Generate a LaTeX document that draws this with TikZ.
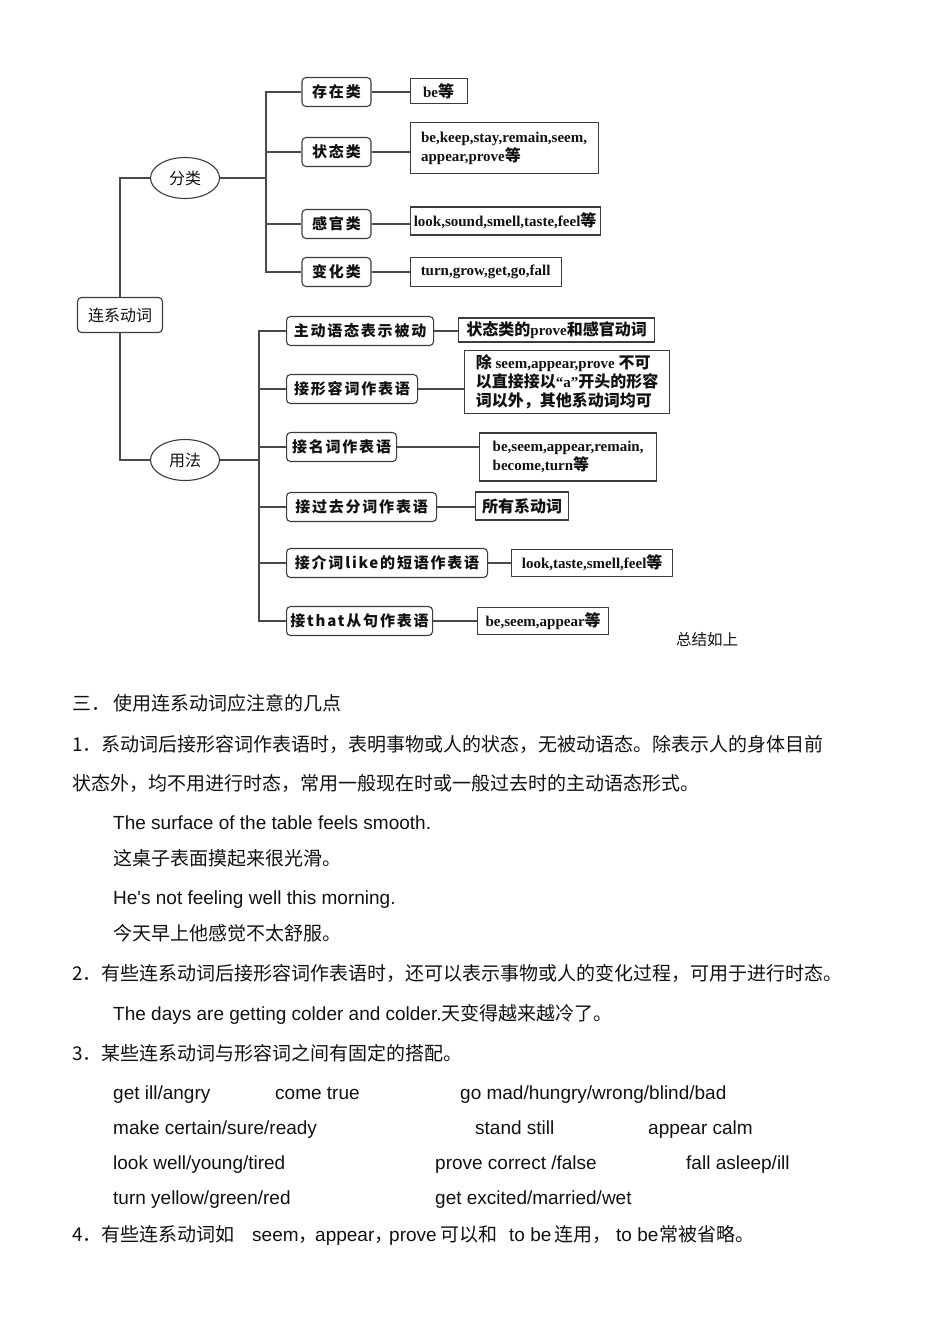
\documentclass[tikz,border=0pt]{standalone}
\usepackage{fontspec}
\setmainfont{Liberation Sans}
\newfontfamily\cjk{Noto Sans CJK SC}
\newfontfamily\cjkspaced[LetterSpace=12]{Noto Sans CJK SC}
\newfontfamily\leafserif{Liberation Serif}
\usetikzlibrary{positioning, shapes.geometric}
\definecolor{clrborder}{HTML}{3C3C3C}
\definecolor{clrline}{HTML}{4A4A4A}
\definecolor{clrtext}{HTML}{111111}
\newcommand{\zhtext}[1]{{\cjk #1}}
\newcommand{\leafzh}[1]{{\fontsize{16}{19}\selectfont\cjk\bfseries #1}}

\begin{document}
\begin{tikzpicture}[
    x=1pt, y=-1pt,
    every node/.style={text=clrtext},
    rootbox/.style={draw=clrborder, rounded corners=4pt, line width=1.1pt, minimum width=85,
                    minimum height=35, inner sep=0, font=\fontsize{16}{16}\selectfont\cjk},
    topic/.style={draw=clrborder, ellipse, line width=1.1pt, minimum width=69, minimum height=41,
                  inner sep=0, font=\fontsize{16}{16}\selectfont\cjk},
    kindbox/.style={draw=clrborder, rounded corners=4pt, line width=1.1pt, minimum height=29,
                    inner sep=0, font=\fontsize{15}{15}\selectfont\cjkspaced\bfseries},
    leafbox/.style={draw=clrborder, line width=1.1pt, inner sep=0, align=left,
                    font=\fontsize{15}{19}\selectfont\leafserif\bfseries},
    link/.style={draw=clrline, line width=1.1pt},
    para/.style={anchor=base west, inner sep=0, font=\fontsize{19}{19}\selectfont},
    parazh/.style={para, font=\fontsize{19}{19}\selectfont\cjk},
]
\useasboundingbox (0,0) rectangle (950,1319);
\node[rootbox] (root) at (120,315) {连系动词};
\node[topic] (kind) at (185,178) {分类};
\node[topic] (usage) at (185,460) {用法};
\coordinate (kind_bus) at (266,178);
\coordinate (usage_bus) at (259,460);
\node[kindbox, minimum width=69] (kind_1) at (336.5,92) {存在类};
\node[kindbox, minimum width=69] (kind_2) at (336.5,152) {状态类};
\node[kindbox, minimum width=69] (kind_3) at (336.5,224) {感官类};
\node[kindbox, minimum width=69] (kind_4) at (336.5,272) {变化类};
\node[leafbox, minimum width=57, minimum height=25, right=38pt of kind_1, yshift=1pt] (kind_leaf_1) {be\leafzh{等}};
\node[leafbox, minimum width=188, minimum height=51, right=38pt of kind_2, yshift=4pt] (kind_leaf_2) {be,keep,stay,remain,seem,\\appear,prove\leafzh{等}};
\node[leafbox, minimum width=190, minimum height=28, right=38pt of kind_3, yshift=3pt] (kind_leaf_3) {look,sound,smell,taste,feel\leafzh{等}};
\node[leafbox, minimum width=151, minimum height=29, right=38pt of kind_4] (kind_leaf_4) {turn,grow,get,go,fall};
\node[kindbox, anchor=west, minimum width=147] (use_1) at (286,331) {主动语态表示被动};
\node[kindbox, anchor=west, minimum width=131] (use_2) at (286,389) {接形容词作表语};
\node[kindbox, anchor=west, minimum width=110] (use_3) at (286,447) {接名词作表语};
\node[kindbox, anchor=west, minimum width=150] (use_4) at (286,507) {接过去分词作表语};
\node[kindbox, anchor=west, minimum width=201] (use_5) at (286,563) {接介词like的短语作表语};
\node[kindbox, anchor=west, minimum width=146] (use_6) at (286,621) {接that从句作表语};
\node[leafbox, minimum width=196, minimum height=24, right=24pt of use_1, yshift=1pt] (use_leaf_1) {\leafzh{状态类的}prove\leafzh{和感官动词}};
\node[leafbox, minimum width=205, minimum height=63, right=46pt of use_2, yshift=7pt] (use_leaf_2) {\leafzh{除} seem,appear,prove \leafzh{不可}\\\leafzh{以直接接以}“a”\leafzh{开头的形容}\\\leafzh{词以外，其他系动词均可}};
\node[leafbox, minimum width=177, minimum height=48, right=82pt of use_3, yshift=-10pt] (use_leaf_3) {be,seem,appear,remain,\\become,turn\leafzh{等}};
\node[leafbox, minimum width=93, minimum height=28, right=38pt of use_4, yshift=1pt] (use_leaf_4) {\leafzh{所有系动词}};
\node[leafbox, minimum width=161, minimum height=27, right=23pt of use_5] (use_leaf_5) {look,taste,smell,feel\leafzh{等}};
\node[leafbox, minimum width=131, minimum height=27, right=44pt of use_6] (use_leaf_6) {be,seem,appear\leafzh{等}};
\draw[link] (kind.west) -| (root.north);
\draw[link] (root.south) |- (usage.west);
\draw[link] (kind.east) -- (kind_bus);
\draw[link] (usage.east) -- (usage_bus);
\foreach \i in {1,...,4} {
    \draw[link] (kind_bus) |- (kind_\i.west);
    \draw[link] (kind_\i.east) -- (kind_\i.east -| kind_leaf_\i.west);
}
\foreach \i in {1,...,6} {
    \draw[link] (usage_bus) |- (use_\i.west);
    \draw[link] (use_\i.east) -- (use_\i.east -| use_leaf_\i.west);
}
\node[inner sep=0, font=\fontsize{15.5}{15.5}\selectfont\cjk] (summary) at (707,640) {总结如上};
\node[parazh] (sec_title) at (72,710) {三．\hspace{3pt}使用连系动词应注意的几点};
\node[parazh] (rule_1a) at (72,751) {1．系动词后接形容词作表语时，表明事物或人的状态，无被动语态。除表示人的身体目前};
\node[parazh] (rule_1b) at (72,790) {状态外，均不用进行时态，常用一般现在时或一般过去时的主动语态形式。};
\node[para] (ex_1) at (113,829) {The surface of the table feels smooth.};
\node[parazh] (ex_1_zh) at (113,865) {这桌子表面摸起来很光滑。};
\node[para] (ex_2) at (113,904) {He\textquotesingle s not feeling well this morning.};
\node[parazh] (ex_2_zh) at (113,940) {今天早上他感觉不太舒服。};
\node[parazh] (rule_2) at (72,980) {2．有些连系动词后接形容词作表语时，还可以表示事物或人的变化过程，可用于进行时态。};
\node[para] (ex_3) at (113,1020) {The days are getting colder and colder.\zhtext{天变得越来越冷了。}};
\node[parazh] (rule_3) at (72,1060) {3．某些连系动词与形容词之间有固定的搭配。};
\node[para] (pair_1) at (113,1099) {get ill/angry};
\node[para] (pair_2) at (275,1099) {come true};
\node[para] (pair_3) at (460,1099) {go mad/hungry/wrong/blind/bad};
\node[para] (pair_4) at (113,1134) {make certain/sure/ready};
\node[para] (pair_5) at (475,1134) {stand still};
\node[para] (pair_6) at (648,1134) {appear calm};
\node[para] (pair_7) at (113,1169) {look well/young/tired};
\node[para] (pair_8) at (435,1169) {prove correct /false};
\node[para] (pair_9) at (686,1169) {fall asleep/ill};
\node[para] (pair_10) at (113,1204) {turn yellow/green/red};
\node[para] (pair_11) at (435,1204) {get excited/married/wet};
\node[parazh] (rule_4) at (72,1241) {4．有些连系动词如};
\node[para] (rule_4_seem) at (252,1241) {seem\zhtext{，}};
\node[para] (rule_4_appear) at (315,1241) {appear\zhtext{，}};
\node[para] (rule_4_prove) at (389,1241) {prove};
\node[parazh] (rule_4_with) at (440,1241) {可以和};
\node[para] (rule_4_tobe) at (509,1241) {to be};
\node[parazh] (rule_4_join) at (554,1241) {连用，};
\node[para] (rule_4_tobe_2) at (616,1241) {to be};
\node[parazh] (rule_4_omit) at (659,1241) {常被省略。};
\end{tikzpicture}
\end{document}
